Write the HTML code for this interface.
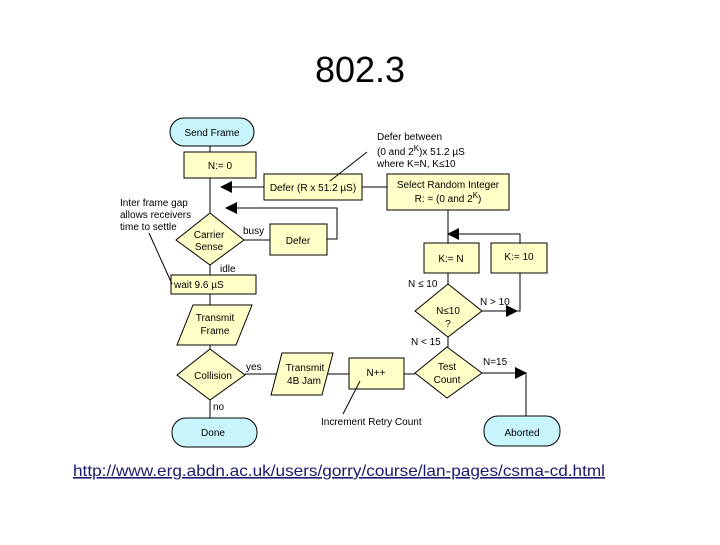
<!DOCTYPE html>
<html><head><style>
body{margin:0;background:#fff;width:720px;height:540px;overflow:hidden}
svg text{font-family:"Liberation Sans",sans-serif;font-size:10px;fill:#000}
</style></head><body>
<svg width="720" height="540" viewBox="0 0 720 540">
<text x="360" y="82" text-anchor="middle" style="font-size:36px">802.3</text>
<g fill="#ffffc8" stroke="#000" stroke-width="1">
<rect x="170" y="118" width="84" height="28" rx="14" fill="#c8f4fc"/>
<rect x="184" y="152" width="72" height="26"/>
<rect x="264" y="174" width="98" height="26"/>
<rect x="387" y="174" width="122" height="36"/>
<rect x="270" y="224" width="57" height="31"/>
<polygon points="210,213 244,240 210,265 176,240"/>
<rect x="171" y="275" width="85" height="19"/>
<polygon points="193,305 252,305 236,345 177,345"/>
<polygon points="210,349 245,375 210,400 177,375"/>
<rect x="172" y="418" width="85" height="29" rx="14" fill="#c8f4fc"/>
<polygon points="282,353 333,353 322,395 271,395"/>
<rect x="349" y="358" width="55" height="31"/>
<polygon points="447,347 482,373 447,398 415,373"/>
<rect x="484" y="416" width="76" height="30" rx="14" fill="#c8f4fc"/>
<polygon points="448,284 482,311 448,337 415,311"/>
<rect x="424" y="243" width="55" height="30"/>
<rect x="491" y="243" width="56" height="30"/>
</g>
<g stroke="#000" stroke-width="1" fill="none">
<line x1="210" y1="146" x2="210" y2="152"/>
<line x1="210" y1="178" x2="210" y2="213"/>
<line x1="230" y1="187" x2="264" y2="187"/>
<line x1="362" y1="187" x2="387" y2="187"/>
<polyline points="232,208 337,208 337,239 327,239"/>
<line x1="244" y1="240" x2="270" y2="240"/>
<line x1="210" y1="265" x2="210" y2="275"/>
<line x1="210" y1="294" x2="210" y2="305"/>
<line x1="210" y1="345" x2="210" y2="349"/>
<line x1="210" y1="400" x2="210" y2="418"/>
<line x1="245" y1="374" x2="276" y2="374"/>
<line x1="328" y1="374" x2="349" y2="374"/>
<line x1="404" y1="374" x2="415" y2="374"/>
<polyline points="482,373 526,373 526,416"/>
<line x1="448" y1="210" x2="448" y2="243"/>
<line x1="448" y1="273" x2="448" y2="284"/>
<line x1="448" y1="337" x2="448" y2="347"/>
<polyline points="458,234 520,234 520,243"/>
<polyline points="520,273 520,311 482,311"/>
<line x1="367" y1="152" x2="330" y2="181"/>
<line x1="360" y1="381" x2="343" y2="414"/>
<line x1="149" y1="233" x2="172" y2="284"/>
</g>
<g fill="#000">
<polygon points="220,187 232,181 232,193"/>
<polygon points="225,208 237,202 237,214"/>
<polygon points="447,234 459,228 459,240"/>
<polygon points="518,311 506,305 506,317"/>
<polygon points="527,373 515,367 515,379"/>
</g>
<text x="212" y="136" text-anchor="middle">Send Frame</text>
<text x="220" y="169" text-anchor="middle">N:= 0</text>
<text x="313" y="191" text-anchor="middle">Defer (R x 51.2 µS)</text>
<text x="448" y="188" text-anchor="middle">Select Random Integer</text>
<text x="448" y="202" text-anchor="middle">R: = (0 and 2<tspan dy="-4" style="font-size:8px">K</tspan><tspan dy="4">)</tspan></text>
<text x="377" y="140">Defer between</text>
<text x="377" y="155">(0 and 2<tspan dy="-4" style="font-size:8px">K</tspan><tspan dy="4">)x 51.2 µS</tspan></text>
<text x="377" y="167">where K=N, K≤10</text>
<text x="120" y="206">Inter frame gap</text>
<text x="120" y="218">allows receivers</text>
<text x="120" y="230">time to settle</text>
<text x="209" y="238" text-anchor="middle">Carrier</text>
<text x="209" y="250" text-anchor="middle">Sense</text>
<text x="243" y="234">busy</text>
<text x="298" y="244" text-anchor="middle">Defer</text>
<text x="220" y="272">idle</text>
<text x="174" y="288">wait 9.6 µS</text>
<text x="215" y="321" text-anchor="middle">Transmit</text>
<text x="215" y="334" text-anchor="middle">Frame</text>
<text x="213" y="379" text-anchor="middle">Collision</text>
<text x="246" y="370">yes</text>
<text x="213" y="410">no</text>
<text x="213" y="436" text-anchor="middle">Done</text>
<text x="305" y="371" text-anchor="middle">Transmit</text>
<text x="304" y="384" text-anchor="middle">4B Jam</text>
<text x="376" y="376" text-anchor="middle">N++</text>
<text x="447" y="370" text-anchor="middle">Test</text>
<text x="447" y="383" text-anchor="middle">Count</text>
<text x="483" y="365">N=15</text>
<text x="522" y="436" text-anchor="middle">Aborted</text>
<text x="321" y="425">Increment Retry Count</text>
<text x="451" y="262" text-anchor="middle">K:= N</text>
<text x="519" y="260" text-anchor="middle">K:= 10</text>
<text x="408" y="287">N ≤ 10</text>
<text x="448" y="314" text-anchor="middle">N≤10</text>
<text x="448" y="327" text-anchor="middle">?</text>
<text x="480" y="305">N &gt; 10</text>
<text x="411" y="345">N &lt; 15</text>
<text x="73" y="476" style="font-size:16px;fill:#1a1a6e;text-decoration:underline" textLength="532" lengthAdjust="spacingAndGlyphs">http://www.erg.abdn.ac.uk/users/gorry/course/lan-pages/csma-cd.html</text>
</svg>
</body></html>
